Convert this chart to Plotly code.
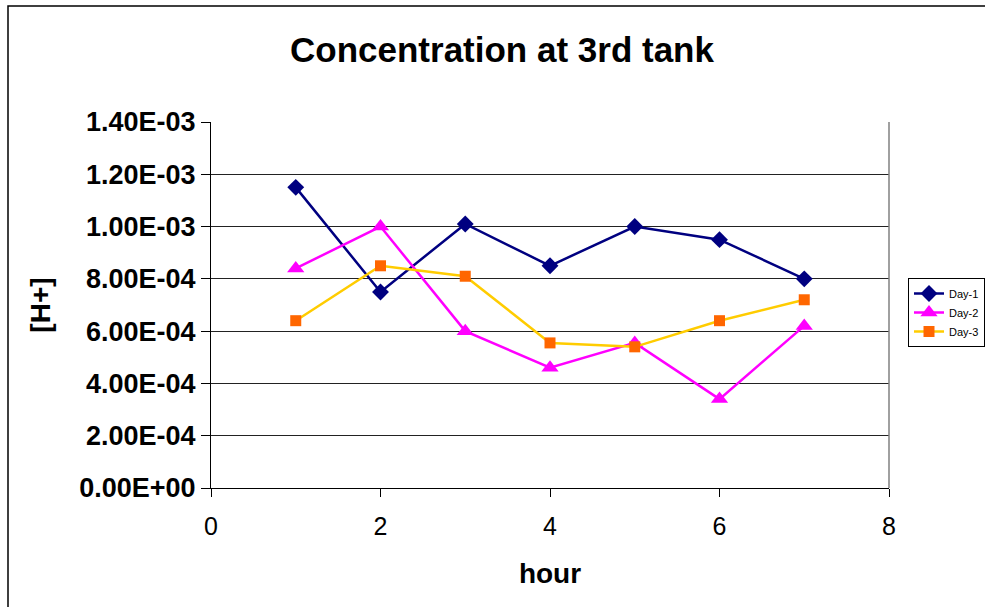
import plotly.graph_objects as go

# Hourly [H+] readings at the third tank
hours = [1, 2, 3, 4, 5, 6, 7]
day1 = [1.15e-3, 7.5e-4, 1.01e-3, 8.5e-4, 1.00e-3, 9.5e-4, 8.0e-4]
day2 = [8.4e-4, 1.00e-3, 6.0e-4, 4.6e-4, 5.55e-4, 3.4e-4, 6.2e-4]
day3 = [6.4e-4, 8.5e-4, 8.1e-4, 5.55e-4, 5.4e-4, 6.4e-4, 7.2e-4]

y_ticks = [0, 2e-4, 4e-4, 6e-4, 8e-4, 1.0e-3, 1.2e-3, 1.4e-3]
y_tick_labels = ["0.00E+00", "2.00E-04", "4.00E-04", "6.00E-04",
                 "8.00E-04", "1.00E-03", "1.20E-03", "1.40E-03"]
x_ticks = [0, 2, 4, 6, 8]

FONT = "Liberation Sans, Arial, sans-serif"

fig = go.Figure()
fig.add_trace(go.Scatter(
    x=hours, y=day1, name="Day-1", mode="lines+markers",
    line=dict(color="#000080", width=2.5),
    marker=dict(symbol="diamond", size=13, color="#000080"),
))
fig.add_trace(go.Scatter(
    x=hours, y=day2, name="Day-2", mode="lines+markers",
    line=dict(color="#FF00FF", width=2.5),
    marker=dict(symbol="triangle-up", size=15, color="#FF00FF"),
))
fig.add_trace(go.Scatter(
    x=hours, y=day3, name="Day-3", mode="lines+markers",
    line=dict(color="#FFCC00", width=2.5),
    marker=dict(symbol="square", size=11, color="#FF6600"),
))

L, R, T, B = 211, 96, 122, 119
W, H = 985, 607
pw, ph = W - L - R, H - T - B

def px_x(x):
    return (x - L) / pw

def px_y(y):
    return (H - B - y) / ph

fig.update_layout(
    width=W, height=H,
    margin=dict(l=L, r=R, t=T, b=B, autoexpand=False),
    paper_bgcolor="white", plot_bgcolor="white",
    font=dict(family=FONT, color="black"),
    title=dict(text="<b>Concentration at 3rd tank</b>", x=502 / W, xanchor="center",
               xref="container", y=1 - 50 / H, yanchor="middle",
               font=dict(size=35, family=FONT)),
    showlegend=True,
    legend=dict(x=px_x(908), xanchor="left", y=px_y(278), yanchor="top",
                font=dict(size=11, family=FONT), bordercolor="black", borderwidth=1,
                bgcolor="white", itemwidth=30, tracegroupgap=0),
    xaxis=dict(range=[0, 8], tickvals=x_ticks, ticks="outside", ticklen=8,
               tickcolor="black", tickfont=dict(size=25, family=FONT),
               ticklabelstandoff=8,
               showgrid=False, zeroline=False, showline=True, linecolor="black",
               linewidth=1, mirror=False,
               title=dict(text="<b>hour</b>", font=dict(size=28, family=FONT), standoff=24)),
    yaxis=dict(range=[0, 1.4e-3], tickvals=y_ticks, ticktext=[f"<b>{t}</b>" for t in y_tick_labels],
               ticks="outside", ticklen=9, tickcolor="black",
               tickfont=dict(size=27, family=FONT),
               showgrid=True, gridcolor="#222222", gridwidth=1,
               zeroline=False, showline=True, linecolor="black", linewidth=1,
               title=dict(text="<b>[H+]</b>", font=dict(size=28, family=FONT), standoff=20)),
    shapes=[
        # right edge of the plot area
        dict(type="line", xref="paper", yref="paper", x0=1, x1=1, y0=0, y1=1,
             line=dict(color="#808080", width=1.5)),
        # outer chart frame
        dict(type="rect", xref="paper", yref="paper",
             x0=px_x(8), x1=px_x(W + 20), y0=px_y(H + 20), y1=px_y(6),
             line=dict(color="black", width=1.5), layer="below"),
    ],
)

fig.write_html("out.html")
